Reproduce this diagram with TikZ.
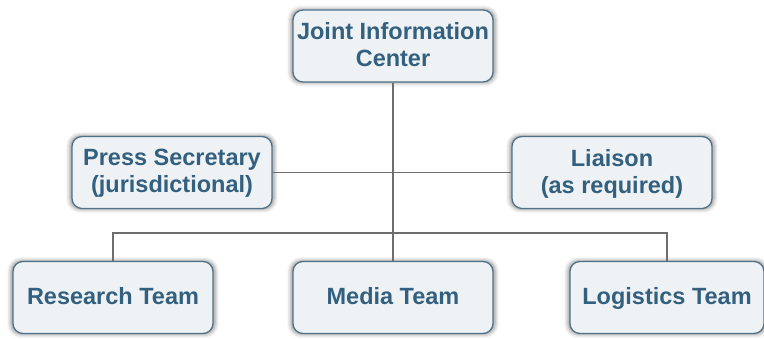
\documentclass[tikz,border=0pt]{standalone}
\usepackage{fontspec}
\setmainfont{Liberation Sans}
\usetikzlibrary{shadows.blur}
\definecolor{boxline}{HTML}{4F7189}
\definecolor{boxfill}{HTML}{EEF2F5}
\definecolor{boxtext}{HTML}{33607E}
\definecolor{wire}{HTML}{6E6E6E}
\begin{document}
\begin{tikzpicture}[x=1pt, y=1pt, thick,
    main/.style = {draw=boxline, line width=1.3pt, fill=boxfill, rounded corners=10pt,
      minimum width=200pt, minimum height=72pt, inner sep=2pt, align=center, text=boxtext,
      font=\fontsize{23.5}{27}\selectfont\bfseries, text depth=0.3em,
      blur shadow={shadow xshift=0pt, shadow yshift=0pt, shadow scale=1.02,
        shadow blur radius=4pt, shadow opacity=45}},
    link/.style = {draw=wire, line width=1.1pt}]
      \useasboundingbox (0,0) rectangle (764,339);
      \node[main] (jic) at (393,293) {Joint Information\\Center};
      \node[main] (press) at (172,166.5) {Press Secretary\\(jurisdictional)};
      \node[main] (liaison) at (612,166.5) {Liaison\\(as required)};
      \node[main] (research) at (113,41.5) {Research Team};
      \node[main] (media) at (393,41.5) {Media Team};
      \node[main, minimum width=194pt] (logistics) at (667,41.5) {Logistics Team};
      \coordinate (bus) at (393,106);

      \draw[link] (jic) -- (media);
      \draw[link] (press) -- (liaison);
      \draw[link] (research.north) |- (bus) -| (logistics.north);
      \end{tikzpicture}
\end{document}
